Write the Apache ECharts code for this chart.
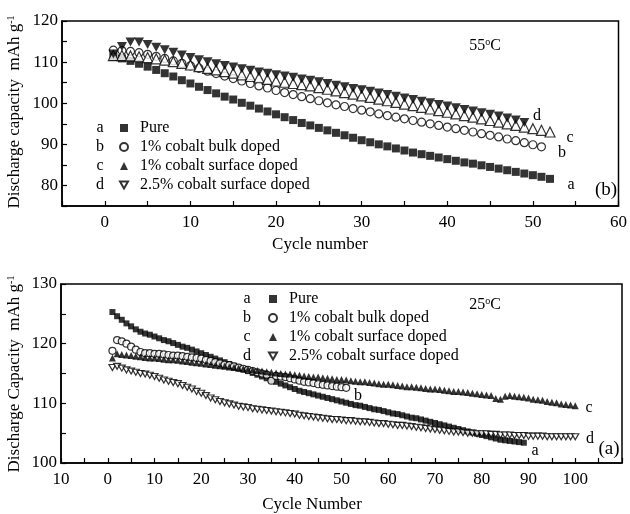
<!DOCTYPE html>
<html>
<head>
<meta charset="utf-8">
<script src="https://cdn.jsdelivr.net/npm/echarts@6/dist/echarts.min.js"></script>
<style>
  html, body { margin: 0; padding: 0; background: #fff; }
  #chart { width: 630px; height: 514px; }
</style>
</head>
<body>
<div id="chart"></div>
<script>
// ---- data: 55 C (top panel, b) ----
const pure55 = [111.3, 110.9, 110.3, 109.6, 108.9, 108.1, 107.3, 106.5, 105.6, 104.8,
  104.0, 103.2, 102.4, 101.6, 100.9, 100.1, 99.4, 98.7, 98.0, 97.3,
  96.6, 95.9, 95.2, 94.6, 94.0, 93.4, 92.8, 92.2, 91.6, 91.0,
  90.5, 90.0, 89.5, 89.0, 88.5, 88.0, 87.6, 87.2, 86.8, 86.4,
  86.0, 85.6, 85.3, 84.9, 84.5, 84.1, 83.7, 83.3, 82.9, 82.5,
  82.1, 81.6]
const bulk55 = [112.9, 112.8, 112.6, 112.3, 111.9, 111.4, 110.9, 110.3, 109.7, 109.1,
  108.5, 107.8, 107.2, 106.6, 106.0, 105.4, 104.8, 104.2, 103.7, 103.1,
  102.6, 102.1, 101.6, 101.1, 100.6, 100.1, 99.6, 99.2, 98.7, 98.3,
  97.9, 97.4, 97.0, 96.6, 96.2, 95.8, 95.4, 95.0, 94.6, 94.2,
  93.8, 93.4, 93.0, 92.6, 92.2, 91.8, 91.3, 90.9, 90.4, 89.9,
  89.4]
const surf55 = [111.6, 111.6, 111.5, 111.3, 111.1, 110.8, 110.5, 110.1, 109.7, 109.3,
  108.9, 108.5, 108.1, 107.7, 107.3, 106.9, 106.5, 106.2, 105.8, 105.4,
  105.1, 104.8, 104.5, 104.2, 103.8, 103.4, 103.0, 102.6, 102.2, 101.8,
  101.4, 101.0, 100.6, 100.2, 99.8, 99.4, 99.0, 98.6, 98.2, 97.8,
  97.4, 97.0, 96.6, 96.2, 95.8, 95.4, 95.0, 94.6, 94.2, 93.8,
  93.4, 93.0]
const surf25pc55 = [112.0, 113.8, 114.9, 114.9, 114.3, 113.6, 113.0, 112.4, 111.7, 111.1,
  110.6, 110.1, 109.6, 109.2, 108.8, 108.4, 108.0, 107.6, 107.3, 106.9,
  106.6, 106.3, 105.9, 105.6, 105.2, 104.8, 104.4, 104.0, 103.6, 103.3,
  102.9, 102.5, 102.1, 101.7, 101.3, 100.9, 100.5, 100.1, 99.7, 99.3,
  98.9, 98.5, 98.1, 97.7, 97.3, 96.9, 96.4, 95.9, 95.3]

// ---- data: 25 C (bottom panel, a) ----
const pure25 = [125.3, 124.6, 124.0, 123.4, 122.9, 122.4, 122.0, 121.7, 121.5, 121.2,
  120.9, 120.6, 120.4, 120.1, 119.8, 119.5, 119.3, 119.0, 118.7, 118.4,
  118.1, 117.8, 117.5, 117.2, 116.9, 116.6, 116.3, 116.0, 115.7, 115.4,
  115.1, 114.8, 114.5, 114.2, 113.9, 113.6, 113.3, 113.0, 112.7, 112.4,
  112.1, 111.9, 111.7, 111.5, 111.3, 111.1, 110.9, 110.7, 110.5, 110.3,
  110.1, 109.9, 109.7, 109.6, 109.4, 109.2, 109.0, 108.9, 108.7, 108.5,
  108.3, 108.2, 108.0, 107.8, 107.6, 107.5, 107.3, 107.1, 106.9, 106.7,
  106.5, 106.3, 106.1, 105.9, 105.7, 105.5, 105.3, 105.1, 104.9, 104.7,
  104.5, 104.3, 104.1, 103.9, 103.8, 103.7, 103.6, 103.5, 103.4]
const bulk25 = [118.8, 120.6, 120.4, 120.0, 119.5, 119.0, 118.6, 118.4, 118.4, 118.3,
  118.3, 118.2, 118.1, 118.0, 118.0, 117.9, 117.8, 117.7, 117.6, 117.5,
  117.3, 117.1, 116.9, 116.7, 116.5, 116.4, 116.2, 116.0, 115.8, 115.6,
  115.4, 115.2, 115.0, 114.8, 113.8, 114.6, 114.5, 114.4, 114.2, 114.0,
  113.8, 113.6, 113.5, 113.4, 113.2, 113.1, 113.0, 112.9, 112.8, 112.7,
  112.6]
const surf25 = [117.6, 118.3, 118.2, 118.1, 118.0, 117.9, 117.8, 117.7, 117.6, 117.6,
  117.5, 117.4, 117.3, 117.3, 117.2, 117.1, 117.0, 116.9, 116.8, 116.7,
  116.6, 116.5, 116.4, 116.3, 116.2, 116.1, 116.0, 115.9, 115.8, 115.7,
  115.6, 115.5, 115.4, 115.3, 115.2, 115.1, 115.0, 114.9, 114.9, 114.8,
  114.7, 114.6, 114.5, 114.4, 114.4, 114.3, 114.2, 114.1, 114.0, 114.0,
  113.9, 113.8, 113.7, 113.6, 113.6, 113.5, 113.4, 113.3, 113.2, 113.2,
  113.1, 113.0, 112.9, 112.8, 112.8, 112.7, 112.6, 112.5, 112.4, 112.4,
  112.3, 112.2, 112.1, 112.0, 112.0, 111.9, 111.8, 111.7, 111.6, 111.5,
  111.4, 111.3, 110.8, 110.7, 111.2, 111.3, 111.2, 111.1, 111.0, 110.9,
  110.7, 110.6, 110.5, 110.3, 110.2, 110.1, 109.9, 109.8, 109.7, 109.6]
const surf25pc25 = [116.0, 116.2, 115.9, 115.6, 115.4, 115.2, 115.0, 114.9, 114.7, 114.5,
  114.2, 113.9, 113.7, 113.5, 113.3, 113.0, 112.7, 112.4, 112.0, 111.7,
  111.3, 110.9, 110.6, 110.3, 110.1, 109.9, 109.7, 109.5, 109.4, 109.3,
  109.1, 109.0, 108.9, 108.8, 108.7, 108.6, 108.5, 108.4, 108.3, 108.2,
  108.0, 107.9, 107.8, 107.7, 107.6, 107.5, 107.4, 107.3, 107.3, 107.2,
  107.1, 107.1, 107.0, 106.9, 106.9, 106.8, 106.7, 106.6, 106.6, 106.5,
  106.4, 106.3, 106.3, 106.2, 106.1, 106.0, 105.9, 105.8, 105.7, 105.6,
  105.5, 105.4, 105.3, 105.2, 105.2, 105.1, 105.0, 105.0, 104.9, 104.9,
  104.9, 104.8, 104.8, 104.7, 104.7, 104.7, 104.6, 104.6, 104.6, 104.5,
  104.5, 104.5, 104.5, 104.4, 104.4, 104.4, 104.4, 104.4, 104.4, 104.4]

const legendNames = ['Pure', '1% cobalt bulk doped', '1% cobalt surface doped', '2.5% cobalt surface doped']
const legendLetters = ['a', 'b', 'c', 'd']

const FONT = '"Liberation Serif", "Times New Roman", serif'
const DOWN_TRI = 'path://M0,0L20,0L10,17.3Z'

// cycle number = position in the list (first cycle is 1)
function withCycle(arr) {
    return arr.map(function (v, i) { return [i + 1, v] })
}

function mkAxis(extra, labelFn, margin) {
    let ax = {
        axisLine: { onZero: false, lineStyle: { color: '#000', width: 1.5 } },
        axisTick: { inside: true, length: 5, lineStyle: { color: '#000', width: 1.2 } },
        splitLine: { show: false },
        axisLabel: {
            color: '#000', fontFamily: FONT, fontSize: 17,
            formatter: labelFn, margin: margin,
            showMinLabel: true, showMaxLabel: true
        }
    }
    return Object.assign(ax, extra)
}

const open = { color: '#fff', borderColor: '#000', borderWidth: 1.2 }
const filled = { color: '#000' }

let series = [
    // top (55 C)
    { name: 'a55', type: 'scatter', xAxisIndex: 0, yAxisIndex: 0, symbol: 'rect', symbolSize: 8, itemStyle: filled, data: withCycle(pure55) },
    { name: 'b55', type: 'scatter', xAxisIndex: 0, yAxisIndex: 0, symbol: 'circle', symbolSize: 8, itemStyle: open, data: withCycle(bulk55) },
    { name: 'c55', type: 'scatter', xAxisIndex: 0, yAxisIndex: 0, symbol: 'triangle', symbolSize: 10, itemStyle: open, data: withCycle(surf55) },
    { name: 'd55', type: 'scatter', xAxisIndex: 0, yAxisIndex: 0, symbol: DOWN_TRI, symbolSize: [10, 9], itemStyle: filled, data: withCycle(surf25pc55) },
    // bottom (25 C)
    { name: legendNames[0], type: 'scatter', xAxisIndex: 1, yAxisIndex: 1, symbol: 'rect', symbolSize: 6, itemStyle: filled, data: withCycle(pure25) },
    { name: legendNames[1], type: 'scatter', xAxisIndex: 1, yAxisIndex: 1, symbol: 'circle', symbolSize: 7, itemStyle: open, data: withCycle(bulk25) },
    { name: legendNames[2], type: 'scatter', xAxisIndex: 1, yAxisIndex: 1, symbol: 'triangle', symbolSize: 7, itemStyle: filled, data: withCycle(surf25) },
    { name: legendNames[3], type: 'scatter', xAxisIndex: 1, yAxisIndex: 1, symbol: DOWN_TRI, symbolSize: [7, 6], itemStyle: open, data: withCycle(surf25pc25) }
]
series.forEach(function (s) { s.animation = false; s.emphasis = { disabled: true } })

function mkLegend(left, top) {
    return {
        orient: 'vertical', left: left, top: top, padding: 0,
        itemWidth: 8, itemHeight: 8, itemGap: 3,
        selectedMode: false,
        data: legendNames,
        textStyle: { fontFamily: FONT, fontSize: 16, color: '#000', padding: [0, 0, 0, 7] }
    }
}

function txt(x, y, text, size) {
    return {
        type: 'text', x: x, y: y,
        style: { text: text, fontFamily: FONT, fontSize: size || 16, fill: '#000', align: 'center', verticalAlign: 'middle' }
    }
}

function supText(x, y, parts, size, rot) {
    return {
        type: 'text', x: x, y: y, rotation: rot || 0,
        style: {
            text: '{m|' + parts[0] + '}{s|' + parts[1] + '}{m|' + (parts[2] || '') + '}',
            align: 'center', verticalAlign: 'middle',
            rich: {
                m: { fontFamily: FONT, fontSize: size, fill: '#000', lineHeight: 18 },
                s: { fontFamily: FONT, fontSize: 10, fill: '#000', verticalAlign: 'top', lineHeight: 10 }
            }
        }
    }
}

let graphics = [
    supText(15, 112, ['Discharge capacity  mAh g', '-1'], 17, Math.PI / 2),
    supText(15, 374, ['Discharge Capacity  mAh g', '-1'], 17, Math.PI / 2),
    txt(320, 245, 'Cycle number', 17),
    txt(312, 505, 'Cycle Number', 17),
    supText(485, 46, ['55', 'o', 'C'], 16),
    supText(485, 305, ['25', 'o', 'C'], 16),
    txt(606, 190, '(b)', 19),
    txt(609, 449, '(a)', 19),
    // end-of-curve letters, top
    txt(571, 185, 'a'), txt(562, 153, 'b'), txt(570, 138, 'c'), txt(537, 116, 'd'),
    // end-of-curve letters, bottom
    txt(535, 451, 'a'), txt(358, 396, 'b'), txt(589, 408, 'c'), txt(590, 439, 'd')
]
legendLetters.forEach(function (l, i) {
    graphics.push(txt(100, 128 + i * 19, l))
    graphics.push(txt(247, 299 + i * 19, l))
})

let chart = echarts.init(document.getElementById('chart'), null, { renderer: 'canvas' })
chart.setOption({
    backgroundColor: '#fff',
    animation: false,
    grid: [
        { left: 62, top: 21, width: 560, height: 185, show: true, borderColor: '#000', borderWidth: 1.5, backgroundColor: 'transparent' },
        { left: 61, top: 284, width: 561, height: 179, show: true, borderColor: '#000', borderWidth: 1.5, backgroundColor: 'transparent' }
    ],
    xAxis: [
        mkAxis({ type: 'value', gridIndex: 0, min: -5, max: 60, interval: 5 },
            function (v) { return v % 10 === 0 ? String(v) : '' }, 8),
        mkAxis({ type: 'value', gridIndex: 1, min: -10, max: 110, interval: 5 },
            function (v) { return (v % 10 === 0 && v <= 100) ? String(Math.abs(v)) : '' }, 8)
    ],
    yAxis: [
        mkAxis({ type: 'value', gridIndex: 0, min: 75, max: 120, interval: 5 },
            function (v) { return v % 10 === 0 ? String(v) : '' }, 4),
        mkAxis({ type: 'value', gridIndex: 1, min: 100, max: 130, interval: 5 },
            function (v) { return v % 10 === 0 ? String(v) : '' }, 4)
    ],
    legend: [mkLegend(119, 120), mkLegend(268, 291)],
    series: series,
    graphic: graphics
})
</script>
</body>
</html>
